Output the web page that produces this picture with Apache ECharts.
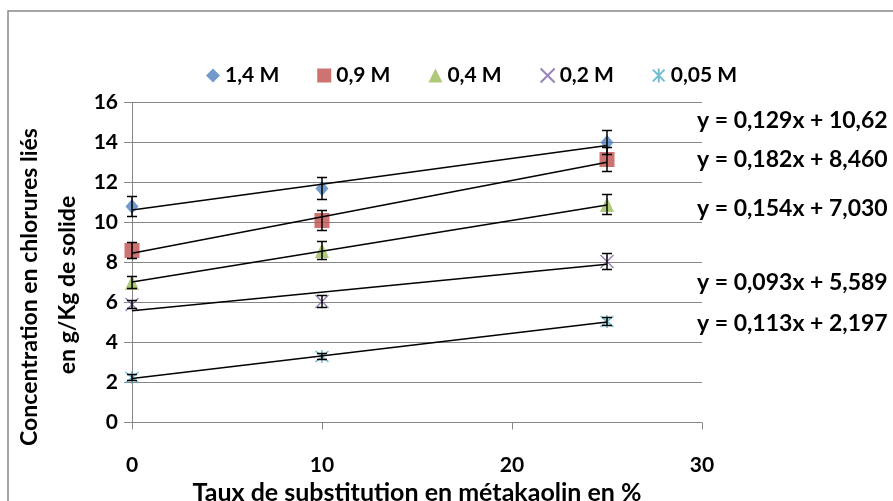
<!DOCTYPE html>
<html>
<head>
<meta charset="utf-8">
<script src="https://cdn.jsdelivr.net/npm/echarts@6/dist/echarts.min.js"></script>
<style>
html,body{margin:0;padding:0;background:#fff;}
#c{width:893px;height:501px;}
</style>
</head>
<body>
<div id="c"></div>
<script>
// ---- Data ----
var xValues = [0, 10, 25];
var seriesNames = ['1,4 M', '0,9 M', '0,4 M', '0,2 M', '0,05 M'];
var s14  = [10.8, 11.7, 14.0];
var s09  = [8.6, 10.1, 13.15];
var s04  = [7.0, 8.6, 10.9];
var s02  = [5.9, 6.05, 8.05];
var s005 = [2.25, 3.3, 5.05];
var e14  = [0.5, 0.55, 0.6];
var e09  = [0.4, 0.5, 0.6];
var e04  = [0.3, 0.45, 0.5];
var e02  = [0.2, 0.3, 0.4];
var e005 = [0.15, 0.15, 0.2];
var slopes = [0.129, 0.182, 0.154, 0.093, 0.113];
var intercepts = [10.62, 8.46, 7.03, 5.589, 2.197];
var equations = ['y = 0,129x + 10,62', 'y = 0,182x + 8,460', 'y = 0,154x + 7,030', 'y = 0,093x + 5,589', 'y = 0,113x + 2,197'];
var trendRange = [0, 25];
var yTicks = [0, 2, 4, 6, 8, 10, 12, 14, 16];
var xTicks = [0, 10, 20, 30];

var values = [s14, s09, s04, s02, s005];
var errs = [e14, e09, e04, e02, e005];
var colors = ['#4F81BD', '#C0504D', '#9BBB59', '#8064A2', '#4BACC6'];
var FONT = 'Lato';

var symbols = [
  'diamond',
  'rect',
  'triangle',
  'path://M0,0L10,10M10,0L0,10',
  'path://M0,0L10,10M10,0L0,10M5,-1L5,11'
];
var symbolSizes = [[13, 15], 15, [14, 15], 13, 13];

var series = [];
// trend lines
for (var i = 0; i < 5; i++) {
  series.push({
    type: 'line',
    data: trendRange.map(function (x) { return [x, slopes[i] * x + intercepts[i]]; }),
    symbol: 'none',
    lineStyle: { color: '#000', width: 1.5 },
    z: 4,
    silent: true
  });
}
// error bars
for (var i = 0; i < 5; i++) {
  (function (k) {
    series.push({
      type: 'custom',
      data: xValues.map(function (x, j) { return [x, values[k][j] - errs[k][j], values[k][j] + errs[k][j]]; }),
      renderItem: function (params, api) {
        var lo = api.coord([api.value(0), api.value(1)]);
        var hi = api.coord([api.value(0), api.value(2)]);
        var w = 5;
        var st = { stroke: '#000', lineWidth: 1.5 };
        return {
          type: 'group',
          children: [
            { type: 'line', shape: { x1: lo[0], y1: lo[1], x2: hi[0], y2: hi[1] }, style: st },
            { type: 'line', shape: { x1: lo[0] - w, y1: lo[1], x2: lo[0] + w, y2: lo[1] }, style: st },
            { type: 'line', shape: { x1: hi[0] - w, y1: hi[1], x2: hi[0] + w, y2: hi[1] }, style: st }
          ]
        };
      },
      z: 3,
      silent: true
    });
  })(i);
}
// markers
for (var i = 0; i < 5; i++) {
  var isLine = i >= 3;
  series.push({
    name: seriesNames[i],
    type: 'scatter',
    data: xValues.map(function (x, j) { return [x, values[i][j]]; }),
    symbol: symbols[i],
    symbolSize: symbolSizes[i],
    itemStyle: isLine ? { color: 'rgba(0,0,0,0)', borderColor: colors[i], borderWidth: 1.5 } : { color: colors[i] },
    z: 2
  });
}

var graphics = [
  { type: 'rect', shape: { x: 8, y: 11, width: 1000, height: 600 }, style: { fill: 'none', stroke: '#888', lineWidth: 1.5 }, z: -1 },
  { type: 'text', x: 30, y: 287, rotation: Math.PI / 2, style: { text: 'Concentration en chlorures liés', font: 'bold 23px ' + FONT, fill: '#000', textAlign: 'center', textVerticalAlign: 'middle' } },
  { type: 'text', x: 68, y: 285, rotation: Math.PI / 2, style: { text: 'en g/Kg de solide', font: 'bold 23px ' + FONT, fill: '#000', textAlign: 'center', textVerticalAlign: 'middle' } },
  { type: 'text', x: 417, y: 493, style: { text: 'Taux de substitution en métakaolin en %', font: 'bold 25px ' + FONT, fill: '#000', textAlign: 'center', textVerticalAlign: 'middle' } }
];
var eqY = [121, 160, 209, 283, 324];
equations.forEach(function (t, k) {
  graphics.push({ type: 'text', x: 697, y: eqY[k], style: { text: t, font: 'bold 23px ' + FONT, fill: '#000', textAlign: 'left', textVerticalAlign: 'middle' } });
});

var chart = echarts.init(document.getElementById('c'), null, { renderer: 'canvas' });
chart.setOption({
  animation: false,
  backgroundColor: '#fff',
  grid: { left: 132, right: 191, top: 102.5, bottom: 78.5, containLabel: false },
  legend: {
    data: seriesNames.map(function (n, k) { return { name: n, icon: symbols[k] }; }),
    top: 60,
    left: 201,
    itemWidth: 14,
    itemHeight: 14,
    itemGap: 38,
    textStyle: { fontFamily: FONT, fontWeight: 'bold', fontSize: 21, color: '#000' }
  },
  xAxis: {
    type: 'value', min: 0, max: 30, interval: 10,
    axisLine: { show: false },
    axisTick: { show: true, length: 7, lineStyle: { color: '#868686' } },
    splitLine: { show: false },
    axisLabel: { margin: 32, fontFamily: FONT, fontWeight: 'bold', fontSize: 21, color: '#000',
      formatter: function (v) { return xTicks.indexOf(v) >= 0 ? String(v) : ''; } }
  },
  yAxis: {
    type: 'value', min: 0, max: 16, interval: 2,
    axisLine: { show: true, lineStyle: { color: '#868686', width: 1 } },
    axisTick: { show: true, length: 8, lineStyle: { color: '#868686' } },
    splitLine: { show: true, lineStyle: { color: '#868686', width: 1 } },
    axisLabel: { margin: 14, fontFamily: FONT, fontWeight: 'bold', fontSize: 21, color: '#000',
      formatter: function (v) { return yTicks.indexOf(v) >= 0 ? String(v) : ''; } }
  },
  graphic: graphics,
  series: series
});
</script>
</body>
</html>
